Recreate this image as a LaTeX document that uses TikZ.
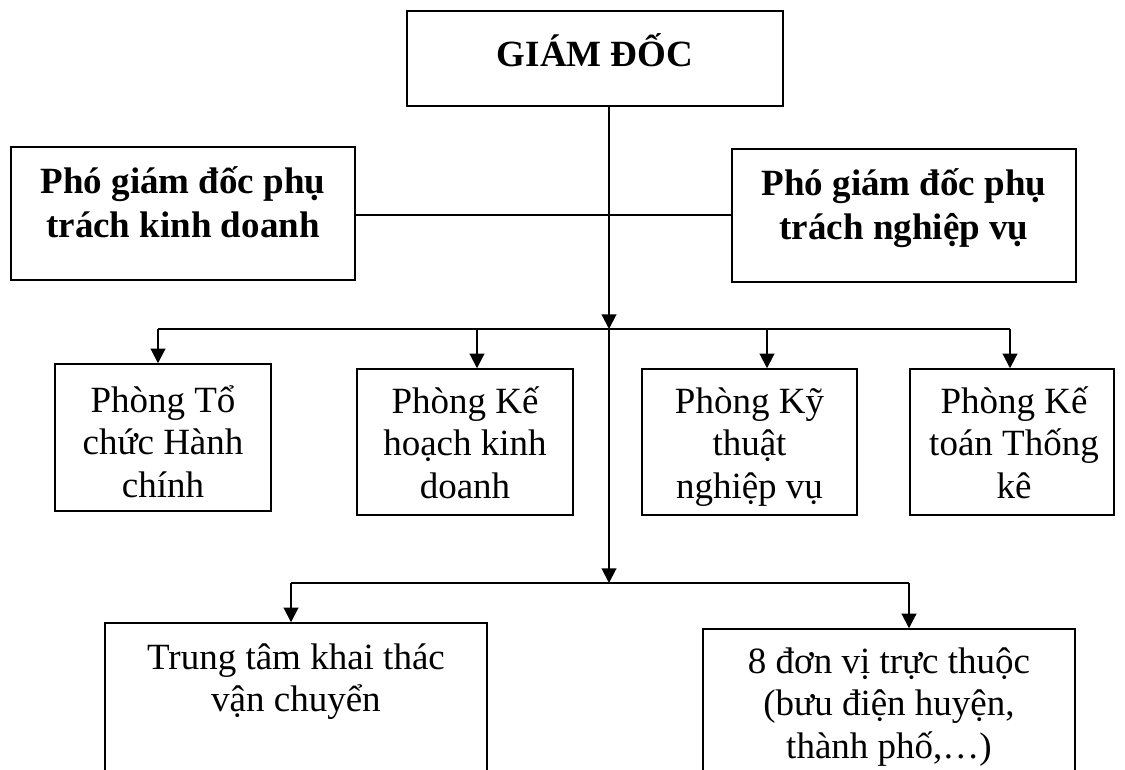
\documentclass[tikz,border=0pt]{standalone}
\usepackage{fontspec}
\setmainfont{Liberation Serif}
\usetikzlibrary{arrows.meta}
\newcommand{\mlines}[1]{\begin{tabular}[t]{@{}c@{}}#1\end{tabular}}
\begin{document}
\begin{tikzpicture}[x=0.75pt,y=-0.75pt,
  box/.style={draw, line width=1.1pt, inner sep=0pt},
  txt/.style={anchor=base, inner sep=0pt, font=\fontsize{27.75}{32}\selectfont},
  btxt/.style={anchor=base, inner sep=0pt, font=\fontsize{27.75}{33}\selectfont\bfseries},
  hline/.style={line width=1.2pt},
  arr/.style={line width=1.5pt, -{Triangle[width=11pt,length=11pt]}},
  vline/.style={line width=1.5pt}]
\clip (0,0) rectangle (1125,769);
\fill[white] (0,0) rectangle (1125,769);
% boxes
\node[box, minimum width=282pt, minimum height=71.25pt] (gd) at (595,58.5) {};
\node[box, minimum width=258pt, minimum height=99.75pt] (pk) at (183,213.5) {};
\node[box, minimum width=258pt, minimum height=99.75pt] (pn) at (904,215.5) {};
\node[box, minimum width=162pt, minimum height=110.25pt] (p1) at (163,437.5) {};
\node[box, minimum width=162pt, minimum height=109.5pt] (p2) at (465,442) {};
\node[box, minimum width=161.25pt, minimum height=109.5pt] (p3) at (749.5,442) {};
\node[box, minimum width=153pt, minimum height=109.5pt] (p4) at (1012,442) {};
\node[box, minimum width=286.5pt, minimum height=132.75pt] (b1) at (296,711.5) {};
\node[box, minimum width=279pt, minimum height=128.25pt] (b2) at (889,714.5) {};
% texts
\node[btxt] (tgd) at (595,66) {GIÁM ĐỐC};
\node[btxt] (tpk) at (183,193) {\mlines{Phó giám đốc phụ\\trách kinh doanh}};
\node[btxt] (tpn) at (904,195) {\mlines{Phó giám đốc phụ\\trách nghiệp vụ}};
\node[txt] (tp1) at (163,412) {\mlines{Phòng Tổ\\chức Hành\\chính}};
\node[txt] (tp2) at (465,413) {\mlines{Phòng Kế\\hoạch kinh\\doanh}};
\node[txt] (tp3) at (749.5,413) {\mlines{Phòng Kỹ\\thuật\\nghiệp vụ}};
\node[txt] (tp4) at (1014,413) {\mlines{Phòng Kế\\toán Thống\\kê}};
\node[txt] (tb1) at (296,669) {\mlines{Trung tâm khai thác\\vận chuyển}};
\node[txt] (tb2) at (889,673) {\mlines{8 đơn vị trực thuộc\\(bưu điện huyện,\\thành phố,…)}};
% junction coordinates
\coordinate (c) at (609,215);
\coordinate (m1) at (609,329);
\coordinate (m2) at (609,583);
\coordinate (d1) at (158,329);
\coordinate (d2) at (477,329);
\coordinate (d3) at (767,329);
\coordinate (d4) at (1010,329);
\coordinate (e1) at (291,583);
\coordinate (e2) at (909,583);
% connectors
\draw[hline] (pk.east |- c) -- (pn.west |- c);
\draw[arr] (gd.south -| m1) -- (m1);
\draw[arr] (m1) -- (m2);
\draw[hline] (d1) -- (d4);
\draw[hline] (e1) -- (e2);
\draw[arr] (d1) -- (d1 |- p1.north);
\draw[arr] (d2) -- (d2 |- p2.north);
\draw[arr] (d3) -- (d3 |- p3.north);
\draw[arr] (d4) -- (d4 |- p4.north);
\draw[arr] (e1) -- (e1 |- b1.north);
\draw[arr] (e2) -- (e2 |- b2.north);
\end{tikzpicture}
\end{document}
